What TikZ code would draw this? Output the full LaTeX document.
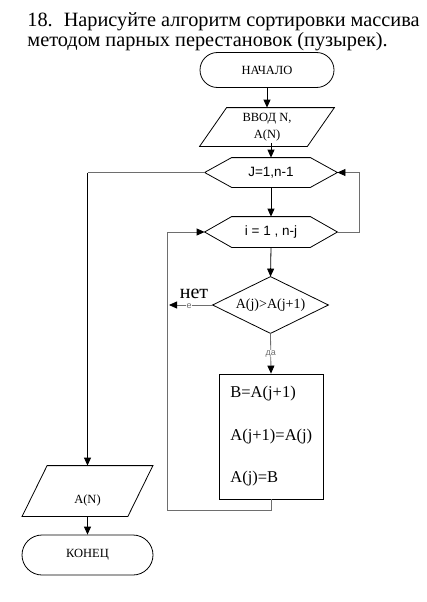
\documentclass[tikz,border=0pt]{standalone}
\usepackage{fontspec}
\setmainfont{Liberation Serif}
\setsansfont{Liberation Sans}
\usetikzlibrary{arrows.meta}
\definecolor{lcol}{RGB}{110,110,110}
\begin{document}
\begin{tikzpicture}[x=1pt,y=-1pt,line width=0.8pt,
  arr/.style={-{Triangle[length=8pt,width=7pt]}},
  arrk/.style={-{Triangle[length=8pt,width=7pt,color=black]}},
  lline/.style={draw=lcol},
  shapebox/.style={inner sep=0pt},
  titlefont/.style={font=\fontsize{20.3}{24}\selectfont},
  smallserif/.style={font=\fontsize{12.5}{17}\selectfont},
  swapfont/.style={font=\fontsize{16.5}{18}\selectfont,anchor=base west,inner sep=0pt},
  hexfont/.style={font=\sffamily\fontsize{13.5}{16}\selectfont},
  tinysans/.style={font=\sffamily\fontsize{9}{10}\selectfont,text=lcol,fill=white,inner sep=0.4pt}]
\useasboundingbox (0,0) rectangle (427,602);

% title
\node[titlefont,anchor=base west,inner sep=0pt] (t1) at (27,27) {18.\hspace{11pt}Нарисуйте алгоритм сортировки массива};
\node[titlefont,anchor=base west,inner sep=0pt] (t2) at (27,47) {методом парных перестановок (пузырек).};

% start
\node[draw,rounded corners=17.5pt,minimum width=134pt,minimum height=35pt,smallserif] (start) at (267,70) {НАЧАЛО};

% input parallelogram
\node[shapebox,minimum width=134pt,minimum height=38pt,align=center,smallserif] (input) at (267,127) {ВВОД N,\\A(N)};
\draw ([xshift=27pt]input.north west) -- (input.north east) -- ([xshift=-27pt]input.south east) -- (input.south west) -- cycle;

% loop hexagons
\node[shapebox,minimum width=132pt,minimum height=29pt,hexfont] (J) at (271,172.5) {J=1,n-1};
\draw ([xshift=27pt]J.north west) -- ([xshift=-27pt]J.north east) -- (J.east) -- ([xshift=-27pt]J.south east) -- ([xshift=27pt]J.south west) -- (J.west) -- cycle;
\node[shapebox,minimum width=132pt,minimum height=30pt,hexfont] (i) at (271,232) {i = 1 , n-j};
\draw ([xshift=27pt]i.north west) -- ([xshift=-27pt]i.north east) -- (i.east) -- ([xshift=-27pt]i.south east) -- ([xshift=27pt]i.south west) -- (i.west) -- cycle;

% condition diamond
\node[shapebox,minimum width=115pt,minimum height=56pt,font=\fontsize{14}{16}\selectfont] (cond) at (270.5,305) {A(j)>A(j+1)};
\draw (cond.north) -- (cond.east) -- (cond.south) -- (cond.west) -- cycle;

% swap block
\node[draw,inner sep=0pt,minimum width=104pt,minimum height=125pt] (swap) at (271,436.5) {};
\node[swapfont] (s1) at (230,397) {B=A(j+1)};
\node[swapfont] (s2) at (230,440) {A(j+1)=A(j)};
\node[swapfont] (s3) at (230,482) {A(j)=B};

% output parallelogram
\node[shapebox,minimum width=130pt,minimum height=50pt] (out) at (87.5,491) {};
\draw ([xshift=25pt]out.north west) -- (out.north east) -- ([xshift=-25pt]out.south east) -- (out.south west) -- cycle;
\node[smallserif,inner sep=0pt] (outT) at (87.5,500) {A(N)};

% end
\node[draw,rounded corners=20pt,minimum width=131pt,minimum height=40pt,smallserif] (end) at (87.5,555) {КОНЕЦ};

% helper coordinates
\coordinate (inB) at (271,143);
\coordinate (rloop) at (359,232);
\coordinate (lcorner) at (87.5,172.5);
\coordinate (nK) at (169,305);
\coordinate (bloop) at (167,510);

% connectors
\draw[arr] (start.south) -- (input.north);
\draw[arr] (inB) -- (J.north);
\draw[arr] (J.south) -- (i.north);
\draw[arrk,lline] (i.east) -- (rloop) |- (J.east);
\draw[lline] (J.west) -- (lcorner);
\draw[arr] (lcorner) -- (out.north);
\draw[arr] (i.south) -- (cond.north);
\draw[arrk,lline] (cond.west) -- (nK);
\node[font=\fontsize{20}{22}\selectfont,anchor=base,inner sep=0pt] (net) at (194,298) {нет};
\node[tinysans] (netS) at (189,306.5) {е};
\draw[arrk,lline] (cond.south) -- (swap.north) node[midway,tinysans] (da) {да};
\draw[arrk,lline] (swap.south) |- (bloop) |- (i.west);
\draw[arr] (out.south) -- (end.north);
\end{tikzpicture}
\end{document}
